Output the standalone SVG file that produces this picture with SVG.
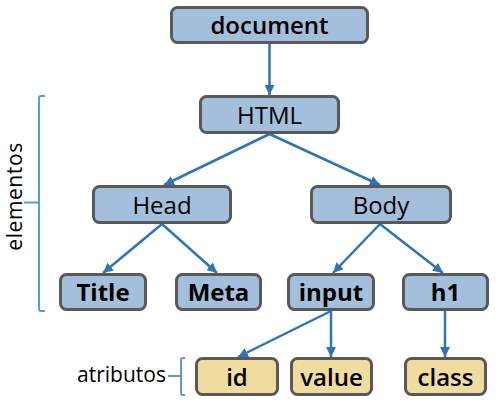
<svg xmlns="http://www.w3.org/2000/svg" width="496" height="404" viewBox="0 0 496 404">
<defs>
<style>
.n rect{stroke:#595959;stroke-width:3}
.b rect{fill:#a3bfdb}
.y rect{fill:#f1dca0}
.n text{font-family:"Open Sans","Noto Sans",sans-serif;font-size:24px;fill:#000;text-anchor:middle}
.c line{stroke:#2e75b6;stroke-width:2.5;marker-end:url(#ah)}
.br{fill:none;stroke:#5b9bd5;stroke-width:2}
.lbl{font-family:"Open Sans","Noto Sans",sans-serif;font-size:21px;fill:#000}
</style>
<marker id="ah" viewBox="0 0 10 10" refX="10" refY="5" markerWidth="4" markerHeight="4" markerUnits="strokeWidth" orient="auto">
<path d="M0,0 L10,5 L0,10 z" fill="#2e75b6"/>
</marker>
</defs>
<g id="connectors" class="c">
<line x1="269.5" y1="44" x2="269.5" y2="95"/>
<line x1="269.5" y1="134" x2="164" y2="185"/>
<line x1="269.5" y1="134" x2="380" y2="185"/>
<line x1="162" y1="224" x2="103" y2="273"/>
<line x1="162" y1="224" x2="217" y2="273"/>
<line x1="380" y1="224" x2="333" y2="273"/>
<line x1="380" y1="224" x2="443" y2="273"/>
<line x1="331" y1="311" x2="238" y2="357"/>
<line x1="331" y1="311" x2="331" y2="357"/>
<line x1="445" y1="311" x2="445" y2="357"/>
</g>
<g id="node-document" class="n b"><rect x="171.5" y="7.5" width="196" height="35" rx="6"/><text x="269.5" y="33.5" font-weight="600">document</text></g>
<g id="node-html" class="n b"><rect x="200.5" y="96.5" width="138" height="36" rx="6"/><text x="269.5" y="123.5">HTML</text></g>
<g id="node-head" class="n b"><rect x="93.5" y="186.5" width="137" height="36" rx="6"/><text x="162" y="213.5">Head</text></g>
<g id="node-body" class="n b"><rect x="311.5" y="186.5" width="139" height="36" rx="6"/><text x="381" y="213.5">Body</text></g>
<g id="node-title" class="n b"><rect x="60.5" y="274.5" width="85" height="35" rx="6"/><text x="103" y="300.5" font-weight="bold">Title</text></g>
<g id="node-meta" class="n b"><rect x="176.5" y="274.5" width="84" height="35" rx="6"/><text x="218.5" y="300.5" font-weight="bold">Meta</text></g>
<g id="node-input" class="n b"><rect x="288.5" y="274.5" width="85" height="35" rx="6"/><text x="331" y="300.5" font-weight="bold">input</text></g>
<g id="node-h1" class="n b"><rect x="403.5" y="274.5" width="84" height="35" rx="6"/><text x="445.5" y="300.5" font-weight="bold">h1</text></g>
<g id="node-id" class="n y"><rect x="196.5" y="358.5" width="81" height="36" rx="6"/><text x="237" y="385.5" font-weight="600">id</text></g>
<g id="node-value" class="n y"><rect x="291.5" y="358.5" width="80" height="36" rx="6"/><text x="331.5" y="385.5" font-weight="600">value</text></g>
<g id="node-class" class="n y"><rect x="405.5" y="358.5" width="80" height="36" rx="6"/><text x="445.5" y="385.5" font-weight="600">class</text></g>
<g id="label-elementos">
<path class="br" d="M45,96 H41 Q39,96 39,98 V309 Q39,311 41,311 H45 M24,202.5 H39"/>
<text class="lbl" transform="translate(21.5,196.5) rotate(-90)" text-anchor="middle" font-size="19.5" letter-spacing="0.6">elementos</text>
</g>
<g id="label-atributos">
<path class="br" d="M185,358 H183 Q181,358 181,360 V393 Q181,395 183,395 H185 M168,376 H181"/>
<text class="lbl" x="77" y="382">atributos</text>
</g>
</svg>
